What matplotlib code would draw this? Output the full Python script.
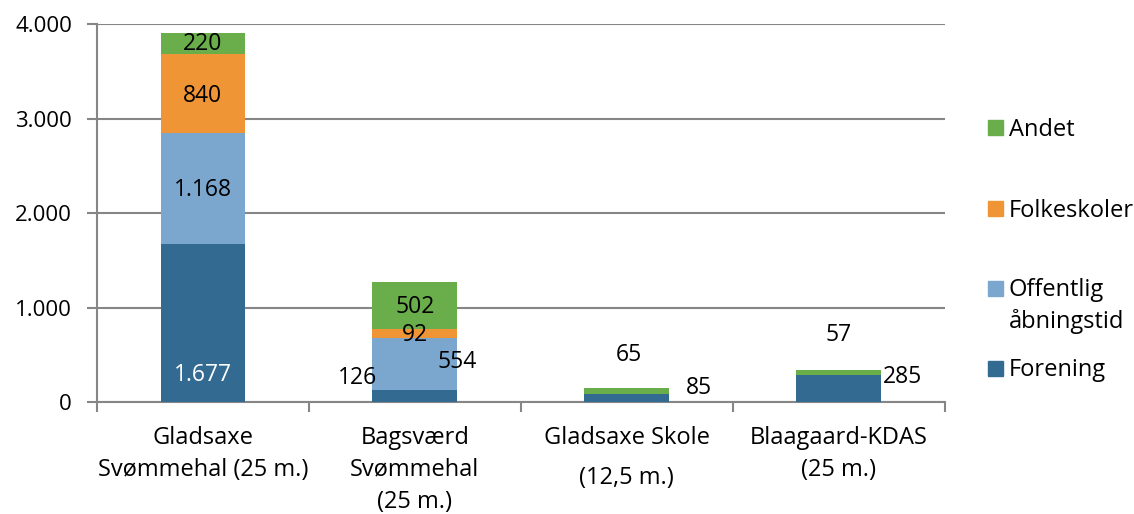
import numpy as np
import matplotlib.pyplot as plt
from matplotlib.patches import Rectangle

plt.rcParams['font.family'] = ['Open Sans', 'DejaVu Sans']

# data
categories = ['Gladsaxe\nSvømmehal (25 m.)', 'Bagsværd\nSvømmehal\n(25 m.)',
              'Gladsaxe Skole\n(12,5 m.)', 'Blaagaard-KDAS\n(25 m.)']
series = ['Forening', 'Offentlig\nåbningstid', 'Folkeskoler', 'Andet']
forening = [1677, 126, 85, 285]
offentlig = [1168, 554, 0, 0]
folkeskoler = [840, 92, 0, 0]
andet = [220, 502, 65, 57]
colors = ['#336a92', '#7ba7cf', '#f09536', '#6aad4b']

# label placement: (category, x offset, y value, text, colour)
labels = [
    (0, 0.0, 290, '1.677', 'white'),
    (0, 0.0, 2245, '1.168', 'black'),
    (0, 0.0, 3240, '840', 'black'),
    (0, 0.0, 3790, '220', 'black'),
    (1, -0.27, 255, '126', 'black'),
    (1, 0.20, 425, '554', 'black'),
    (1, 0.0, 705, '92', 'black'),
    (1, 0.0, 1005, '502', 'black'),
    (2, 0.34, 150, '85', 'black'),
    (2, 0.01, 495, '65', 'black'),
    (3, 0.30, 265, '285', 'black'),
    (3, 0.0, 710, '57', 'black'),
]

W, H = 1134, 514
fig = plt.figure(figsize=(W / 100, H / 100), dpi=100)
ax = fig.add_axes([0.0855, 0.218, 0.7475, 0.735])

x = np.arange(len(categories))
bottom = np.zeros(len(categories))
for vals, col, name in zip([forening, offentlig, folkeskoler, andet], colors, series):
    ax.bar(x, vals, 0.4, bottom=bottom, color=col, label=name, zorder=3)
    bottom += np.array(vals)

for ci, dx, yv, txt, col in labels:
    ax.text(ci + dx, yv, txt, ha='center', va='center', fontsize=16.5, color=col, zorder=4)

grey = '#868686'
ax.set_xlim(-0.5, len(categories) - 0.5)
ax.set_ylim(0, 4000)
ax.set_yticks([0, 1000, 2000, 3000, 4000])
ax.set_yticklabels(['0', '1.000', '2.000', '3.000', '4.000'], fontsize=16)
ax.yaxis.grid(True, color=grey, linewidth=1.5, zorder=0)
ax.set_xticks(np.arange(-0.5, len(categories)), minor=False)
ax.set_xticklabels([])
ax.set_xticks(x, minor=True)
ax.set_xticklabels(categories, minor=True, fontsize=17, linespacing=1.45)
ax.get_xticklabels(minor=True)[2].set_linespacing(1.9)
ax.tick_params(axis='x', which='minor', length=0, pad=17)
ax.tick_params(axis='x', which='major', length=7, width=1.5, color=grey)
ax.tick_params(axis='y', length=7, width=1.5, color=grey, pad=11)
for s in ['top', 'right']:
    ax.spines[s].set_visible(False)
for s in ['left', 'bottom']:
    ax.spines[s].set_color(grey)
    ax.spines[s].set_linewidth(1.5)

# legend drawn by hand so the two-line entry sits like the original
leg_y = [368, 288, 208, 127]   # pixel rows of each entry's first line (Forening..Andet)
for name, col, py in zip(series, colors, leg_y):
    fig.patches.append(Rectangle(((988) / W, 1 - (py + 7.5) / H), 15 / W, 15 / H,
                                 transform=fig.transFigure, color=col))
    for k, line in enumerate(name.split('\n')):
        fig.text(1009 / W, 1 - (py + 8.5 + 32 * k) / H, line, fontsize=17,
                 ha='left', va='baseline')

fig.savefig('out.png', dpi=100)
